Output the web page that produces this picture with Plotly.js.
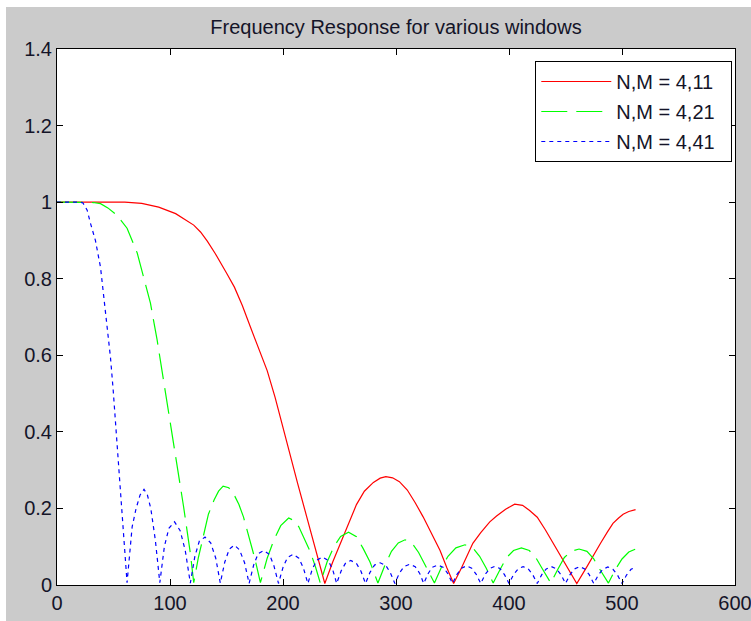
<!DOCTYPE html>
<html>
<head>
<meta charset="utf-8">
<script src="https://cdn.plot.ly/plotly-3.0.1.min.js"></script>
<style>html,body{margin:0;padding:0;background:#fff;}#chart{width:751px;height:621px;}</style>
</head>
<body>
<div id="chart"></div>
<script>
var chartTitle = "Frequency Response for various windows";
var seriesNames = ["N,M = 4,11", "N,M = 4,21", "N,M = 4,41"];

var redX = [0, 30, 60, 75, 90, 105, 115, 121, 127, 133, 140, 145, 150, 157, 164, 171, 180, 186, 193, 200, 206, 213, 221, 229, 237,
  244, 251, 258, 265, 272, 280, 286, 291, 297, 303, 310, 317, 324, 331, 339, 345, 351,
  358, 368, 375, 383, 389, 397, 405, 412, 418, 425, 432, 439, 445, 451, 460,
  469, 475, 481, 487, 492, 497, 501, 506, 512];
var redY = [1, 1, 1, 0.997, 0.987, 0.97, 0.952, 0.94, 0.922, 0.898, 0.866, 0.842, 0.815, 0.778, 0.73, 0.675, 0.605, 0.56, 0.49, 0.41, 0.34, 0.265, 0.178, 0.09, 0.004,
  0.06, 0.11, 0.16, 0.21, 0.245, 0.268, 0.279, 0.283, 0.28, 0.27, 0.248, 0.215, 0.178, 0.135, 0.09, 0.045, 0.004,
  0.045, 0.109, 0.137, 0.165, 0.18, 0.198, 0.211, 0.208, 0.195, 0.177, 0.145, 0.109, 0.078, 0.048, 0.004,
  0.048, 0.08, 0.109, 0.138, 0.161, 0.175, 0.185, 0.192, 0.197];

var greenX = [0, 10, 20, 32, 38.5, 45, 53, 62, 71, 76.6, 82.7, 88.6, 94.3, 100.4, 106, 112, 118, 121,
  125, 130, 134, 139, 143, 147, 152, 156, 161, 165, 170, 175, 180,
  186, 192, 198, 205, 210, 214, 219, 224, 229, 233,
  239, 245, 251, 258, 265, 271, 277, 284,
  290, 296, 302, 308, 314, 320, 327, 334,
  340, 346, 353, 361, 368, 374, 380, 386,
  392, 398, 404, 411, 418, 424, 430, 437,
  443, 449, 455, 462, 469, 475, 481, 488,
  494, 500, 506, 512];
var greenY = [1, 1, 1, 0.999, 0.996, 0.985, 0.966, 0.932, 0.867, 0.805, 0.736, 0.64, 0.535, 0.423, 0.318, 0.205, 0.083, 0.006,
  0.07, 0.135, 0.185, 0.222, 0.245, 0.258, 0.254, 0.24, 0.21, 0.178, 0.125, 0.07, 0.006,
  0.07, 0.118, 0.155, 0.175, 0.168, 0.152, 0.118, 0.088, 0.045, 0.005,
  0.06, 0.1, 0.127, 0.138, 0.126, 0.095, 0.06, 0.005,
  0.05, 0.088, 0.11, 0.118, 0.11, 0.085, 0.045, 0.005,
  0.045, 0.075, 0.097, 0.105, 0.097, 0.075, 0.043, 0.005,
  0.04, 0.072, 0.09, 0.097, 0.09, 0.07, 0.04, 0.005,
  0.04, 0.072, 0.088, 0.094, 0.088, 0.068, 0.038, 0.005,
  0.04, 0.068, 0.086, 0.094];

var blueX = [0, 10, 20, 23, 26.7, 29.6, 34, 38.5, 41.3, 44.4, 47.3, 49.7, 51.7, 54.7, 57.6, 59.7, 62,
  66.5, 70, 73.5, 77, 80, 83, 87, 91,
  95, 99, 104, 109, 113.5, 118,
  122, 126, 131, 136, 140.5, 144.5,
  148.5, 152.5, 157, 161.5, 166, 170,
  174, 178, 183, 188, 192, 196,
  200, 204, 209, 214, 218, 222,
  226, 230, 235, 240, 244, 247.5,
  251.5, 255.5, 260, 265, 269, 273,
  277, 281, 286, 291, 295, 299,
  303, 307, 312, 317, 321, 324.5,
  328.5, 332, 337, 342, 346, 350,
  354, 358, 362.5, 367, 371, 375,
  379, 383, 387.5, 392, 396, 400,
  404, 408, 412.5, 417, 421, 425,
  429, 433, 437.5, 442, 446, 450,
  454, 458, 462.5, 467, 471, 475,
  479, 483, 487.5, 492, 496, 500,
  504, 508, 512];
var blueY = [1, 1, 1, 0.998, 0.979, 0.945, 0.9, 0.83, 0.752, 0.684, 0.595, 0.51, 0.431, 0.318, 0.204, 0.1, 0.006,
  0.152, 0.2, 0.235, 0.25, 0.235, 0.2, 0.118, 0.006,
  0.1, 0.148, 0.165, 0.142, 0.09, 0.005,
  0.075, 0.115, 0.125, 0.11, 0.07, 0.005,
  0.06, 0.094, 0.104, 0.092, 0.058, 0.004,
  0.052, 0.082, 0.09, 0.08, 0.05, 0.004,
  0.046, 0.072, 0.08, 0.07, 0.045, 0.004,
  0.042, 0.065, 0.073, 0.064, 0.04, 0.004,
  0.037, 0.058, 0.064, 0.056, 0.036, 0.004,
  0.033, 0.052, 0.058, 0.051, 0.032, 0.004,
  0.031, 0.048, 0.054, 0.048, 0.03, 0.004,
  0.03, 0.046, 0.052, 0.046, 0.029, 0.004,
  0.028, 0.044, 0.05, 0.044, 0.028, 0.004,
  0.028, 0.043, 0.049, 0.043, 0.027, 0.004,
  0.027, 0.042, 0.048, 0.042, 0.027, 0.004,
  0.027, 0.042, 0.048, 0.042, 0.027, 0.004,
  0.027, 0.042, 0.048, 0.042, 0.027, 0.004,
  0.026, 0.041, 0.047, 0.041, 0.026, 0.004,
  0.026, 0.041, 0.047];

var xTickVals = [0, 100, 200, 300, 400, 500, 600];
var yTickVals = [0, 0.2, 0.4, 0.6, 0.8, 1, 1.2, 1.4];
var yTickText = ["0", "0.2", "0.4", "0.6", "0.8", "1", "1.2", "1.4"];

var FONT = "Liberation Sans, Arial, sans-serif";
var TXT = "#141428";
var PAD = "\u00a0\u00a0";

var traces = [
  {x: redX, y: redY, name: seriesNames[0] + PAD, legendgroup: "a", mode: "lines", line: {color: "#ff0000", width: 1.2}},
  {x: greenX, y: greenY, name: seriesNames[1] + PAD, legendgroup: "b", mode: "lines", line: {color: "#00ff00", width: 1.2, dash: "26px,9px"}},
  {x: blueX, y: blueY, name: seriesNames[2] + PAD, legendgroup: "c", mode: "lines", line: {color: "#0000ff", width: 1.2, dash: "4px,4px"}}
];

var layout = {
  width: 751, height: 621,
  margin: {l: 57, r: 16, t: 49, b: 36, pad: 0},
  paper_bgcolor: "#ffffff",
  plot_bgcolor: "#ffffff",
  font: {family: FONT, size: 20, color: TXT},
  title: {text: chartTitle, font: {family: FONT, size: 20, color: TXT}, x: 0.5, xanchor: "center", xref: "paper", y: 1 - 27/621, yanchor: "middle", yref: "container"},
  showlegend: true,
  legend: {x: 0.996, xanchor: "right", y: 0.9776, yanchor: "top", bgcolor: "#ffffff", bordercolor: "#000000", borderwidth: 1,
    font: {family: FONT, size: 20, color: TXT}, itemwidth: 70, traceorder: "grouped", tracegroupgap: 1},
  xaxis: {range: [0, 600], tickvals: xTickVals, ticktext: xTickVals.map(String), ticks: "inside", ticklen: 6, tickcolor: "#000",
    showline: true, linecolor: "#000", linewidth: 1, mirror: "ticks", showgrid: false, zeroline: false, ticklabeloverflow: "allow",
    tickfont: {family: FONT, size: 20, color: TXT}},
  yaxis: {range: [0, 1.4], tickvals: yTickVals, ticktext: yTickText, ticks: "inside", ticklen: 6, tickcolor: "#000",
    showline: true, linecolor: "#000", linewidth: 1, mirror: "ticks", showgrid: false, zeroline: false, ticklabeloverflow: "allow",
    tickfont: {family: FONT, size: 20, color: TXT}},
  shapes: [
    {type: "rect", xref: "paper", yref: "paper", x0: -0.0752, x1: 1.03, y0: -0.07, y1: 1.0784, layer: "below", fillcolor: "#cbcbcb", line: {width: 0}},
    {type: "rect", xref: "paper", yref: "paper", x0: 0, x1: 1, y0: 0, y1: 1, layer: "below", fillcolor: "#ffffff", line: {width: 0}}
  ]
};

Plotly.newPlot("chart", traces, layout, {displayModeBar: false, staticPlot: true});
</script>
</body>
</html>
